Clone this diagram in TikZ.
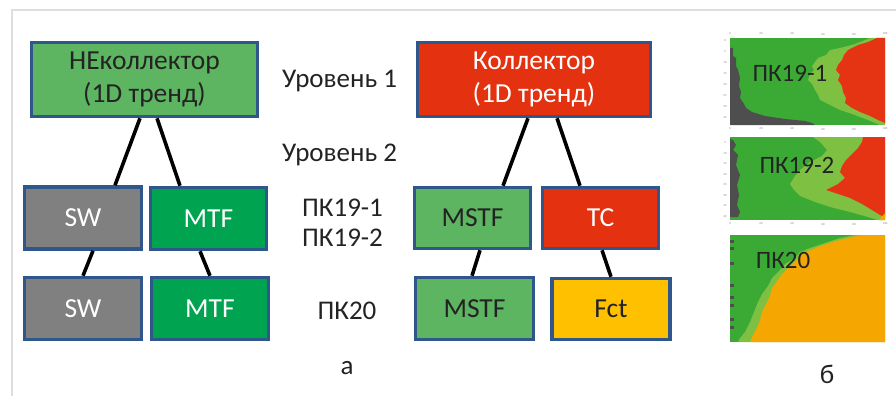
\documentclass[tikz,border=0pt]{standalone}
\usepackage{fontspec}
\setmainfont{Carlito}
\usetikzlibrary{calc}

\definecolor{boxblue}{RGB}{47,87,140}
\definecolor{cgreen}{RGB}{93,181,97}
\definecolor{cdark}{RGB}{0,163,80}
\definecolor{cred}{RGB}{228,50,16}
\definecolor{cgrey}{RGB}{128,128,128}
\definecolor{cyellow}{RGB}{255,192,0}
\definecolor{txtdark}{RGB}{35,35,35}
\definecolor{framegrey}{RGB}{222,222,222}
\definecolor{pgreen}{RGB}{58,170,53}
\definecolor{plight}{RGB}{126,193,66}
\definecolor{pred}{RGB}{228,52,20}
\definecolor{pgrey}{RGB}{78,78,78}
\definecolor{porange}{RGB}{245,166,0}

\tikzstyle{block} = [
    rectangle,
    draw=boxblue,
    line width=3.5pt,
    inner sep=0pt,
    align=center,
    font=\fontsize{27.5}{33}\selectfont
]
\tikzstyle{greenbox} = [block, fill=cgreen, text=txtdark]
\tikzstyle{darkbox} = [block, fill=cdark, text=white]
\tikzstyle{redbox} = [block, fill=cred, text=white]
\tikzstyle{greybox} = [block, fill=cgrey, text=white]
\tikzstyle{yellowbox} = [block, fill=cyellow, text=txtdark]
\tikzstyle{level} = [
    align=center,
    text=txtdark,
    font=\fontsize{27}{30}\selectfont
]
\tikzstyle{plotlabel} = [text=txtdark, font=\fontsize{25}{25}\selectfont]
\tikzstyle{ticklabel} = [text=gray, inner sep=0pt, font=\fontsize{3}{3}\selectfont]
\tikzstyle{link} = [line width=3.6pt, black]

\begin{document}
\begin{tikzpicture}[x=1pt, y=-1pt]
    \useasboundingbox (0,0) rectangle (896,396);
    \draw[framegrey, line width=1.2pt] (12,396) -- (12,10) -- (896,10);

    % left tree
    \node (nekoll) [greenbox, minimum width=226pt, minimum height=74pt] at (144.5,79.5) {НЕколлектор\\(1D тренд)};
    \node (sw1) [greybox, minimum width=117pt, minimum height=62pt] at (83,218) {SW};
    \node (mtf1) [darkbox, minimum width=116pt, minimum height=62pt] at (208.5,218.5) {MTF};
    \node (sw2) [greybox, minimum width=117pt, minimum height=62pt] at (83,308.5) {SW};
    \node (mtf2) [darkbox, minimum width=117pt, minimum height=62pt] at (210,308.5) {MTF};

    % right tree
    \node (koll) [redbox, minimum width=233pt, minimum height=74pt] at (534,79.5) {Коллектор\\(1D тренд)};
    \node (mstf1) [greenbox, minimum width=116pt, minimum height=61pt] at (472.5,218) {MSTF};
    \node (tc) [redbox, minimum width=116pt, minimum height=61pt] at (600.5,218) {TC};
    \node (mstf2) [greenbox, minimum width=118pt, minimum height=62pt] at (474.5,308.5) {MSTF};
    \node (fct) [yellowbox, minimum width=118pt, minimum height=61pt] at (611,309) {Fct};

    % levels
    \node (lev1) [level] at (339.5,81) {Уровень 1};
    \node (lev2) [level] at (339.5,155) {Уровень 2};
    \node (pk19) [level] at (342.5,223) {ПК19-1\\ПК19-2};
    \node (pk20) [level] at (347,311) {ПК20};
    \node (capa) [level] at (347,368) {а};
    \node (capb) [level] at (827,374) {б};

    \draw [link] ($(nekoll.south)+(-4.5,0)$) -- ($(sw1.north)+(32,0)$);
    \draw [link] ($(nekoll.south)+(12.5,0)$) -- ($(mtf1.north)+(-28.5,0)$);
    \draw [link] ($(sw1.south)+(10,0)$) -- (sw2.north);
    \draw [link] ($(mtf1.south)+(-8.5,0)$) -- (mtf2.north);
    \draw [link] ($(koll.south)+(-6,0)$) -- ($(mstf1.north)+(30.5,0)$);
    \draw [link] ($(koll.south)+(23,0)$) -- ($(tc.north)+(-20.5,0)$);
    \draw [link] ($(mstf1.south)+(7.5,0)$) -- ($(mstf2.north)+(-2.5,0)$);
    \draw [link] ($(tc.south)+(1.5,0)$) -- (fct.north);

    % plot 1
    \fill[pgreen] (730,38) rectangle (885,125);
    \fill[plight] (870,38) -- (855,44) -- (840,48) -- (830,50) -- (826,55) -- (818,58) -- (815,62)
        -- (812,66) -- (814,70) -- (810,74) -- (808,80) -- (812,84) -- (815,90) -- (818,95)
        -- (820,100) -- (828,104) -- (840,110) -- (852,114) -- (868,120) -- (880,125) -- (885,125) -- (885,38) -- cycle;
    \fill[pred] (877,38) -- (868,42) -- (858,45) -- (848,50) -- (844,55) -- (842,60) -- (838,65)
        -- (836,70) -- (840,75) -- (838,80) -- (842,86) -- (843,92) -- (846,98) -- (845,103)
        -- (852,108) -- (860,112) -- (870,116) -- (878,120) -- (885,123) -- (885,38) -- cycle;
    \fill[pgrey] (730,48) -- (733,48) -- (733,56) -- (736,58) -- (736,66) -- (738,70) -- (740,78)
        -- (739,86) -- (741,92) -- (740,98) -- (744,104) -- (746,108) -- (752,112) -- (765,116)
        -- (785,119) -- (805,121) -- (812,123) -- (815,125) -- (730,125) -- cycle;
    \foreach \v [count=\i from 0] in {0,20,40,60,80,100} {
        \node [ticklabel] at (730+31*\i,34) {\v};
        \node [ticklabel] at (730+31*\i,129) {\v};
    }
    \foreach \v [count=\i from 0] in {0,5,10,15,20,25,30,35} {
        \node [ticklabel] at (725,41+11*\i) {\v};
    }
    \node (pk191) [plotlabel] at (790,73) {ПК19-1};

    % plot 2
    \fill[pgreen] (730,137) rectangle (885,220);
    \fill[plight] (813,137) -- (820,142) -- (827,150) -- (822,156) -- (810,162) -- (800,170) -- (795,176)
        -- (790,184) -- (794,190) -- (800,196) -- (815,202) -- (830,207) -- (850,212) -- (868,217)
        -- (878,220) -- (885,220) -- (885,137) -- cycle;
    \fill[pred] (863,137) -- (862,142) -- (858,148) -- (852,154) -- (846,160) -- (842,166) -- (840,172)
        -- (845,178) -- (838,184) -- (826,190) -- (838,194) -- (850,198) -- (862,204) -- (872,210)
        -- (880,215) -- (885,217) -- (885,137) -- cycle;
    \fill[porange] (879,220) -- (885,213) -- (885,220) -- cycle;
    \fill[pgrey] (730,139) -- (733,140) -- (736,145) -- (733,150) -- (738,155) -- (736,165) -- (740,175)
        -- (737,185) -- (739,195) -- (737,205) -- (740,212) -- (738,217) -- (730,217) -- cycle;
    \foreach \v [count=\i from 0] in {0,20,40,60,80,100} {
        \node [ticklabel] at (730+31*\i,224) {\v};
    }
    \foreach \v [count=\i from 0] in {5,10,15,20,25,30,35,40} {
        \node [ticklabel] at (725,143+10.5*\i) {\v};
    }
    \node (pk192) [plotlabel] at (797,165) {ПК19-2};

    % plot 3
    \fill[pgreen] (730,235) rectangle (885,342);
    \fill[plight] (855,235) -- (840,238) -- (825,243) -- (810,248) -- (800,252) -- (795,258) -- (785,264)
        -- (780,270) -- (772,278) -- (768,286) -- (762,294) -- (758,302) -- (754,312) -- (750,322)
        -- (745,332) -- (740,338) -- (738,342) -- (885,342) -- (885,235) -- cycle;
    \fill[porange] (862,235) -- (848,238) -- (832,242) -- (818,247) -- (808,251) -- (800,256) -- (795,262)
        -- (788,268) -- (782,274) -- (778,280) -- (772,288) -- (770,296) -- (766,304) -- (762,312)
        -- (760,320) -- (757,328) -- (753,335) -- (750,342) -- (885,342) -- (885,235) -- cycle;
    \foreach \y in {240,247,262,284,296,304,318,326} {
        \fill[pgrey] (730,\y) rectangle (734,\y+2.5);
    }
    \node (pk20b) [plotlabel] at (783,260) {ПК20};
\end{tikzpicture}
\end{document}
